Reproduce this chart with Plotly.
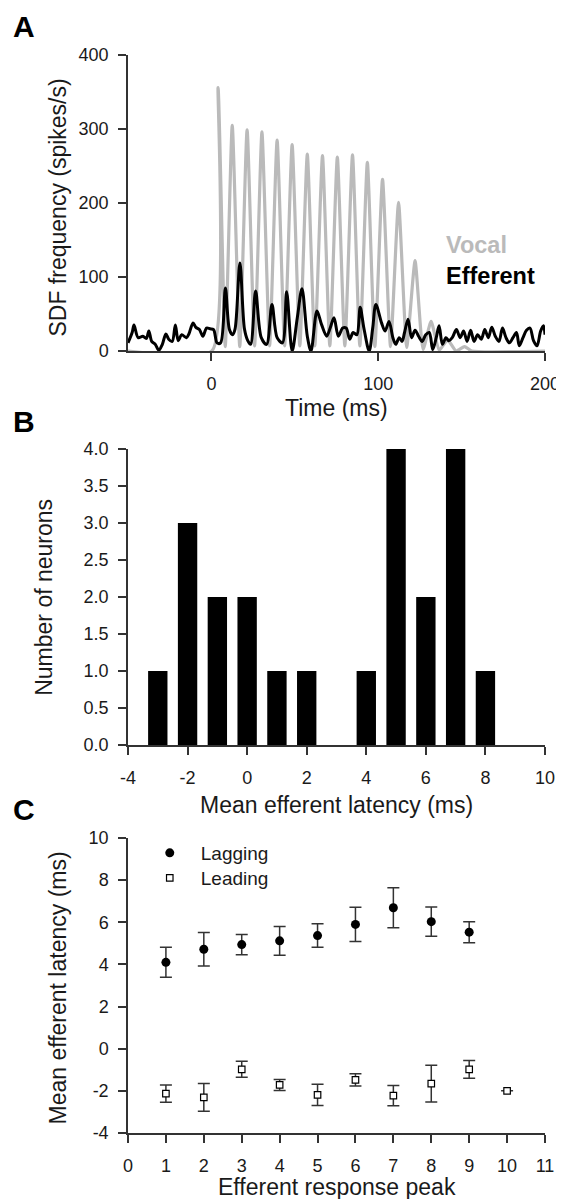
import plotly.graph_objects as go

# ---------------- data ----------------
# Panel A: spike density functions
vocal_t = [-50, 0.3, 4.0, 8.3, 12.5, 17.0, 21.4, 25.9, 30.3, 34.9, 39.4, 43.9, 48.4, 53.0,
           57.5, 62.0, 66.6, 71.0, 75.5, 80.0, 84.6, 89.0, 93.5, 98.0, 102.6, 107.4, 112.2,
           117.1, 122.1, 126.9, 131.7, 136.6, 141.6, 146.7, 151.8, 156.0, 200]
vocal_v = [0, 0, 356, 6, 305, 6, 299, 7, 296, 7, 285, 7, 279, 7,
           266, 7, 264, 7, 262, 7, 265, 7, 255, 6, 232, 6, 201,
           5, 122, 2, 40, 1, 15, 0, 6, 0, 0]

eff_t = [-50, -47.5, -46.4, -43.9, -41.1, -39.0, -37.5, -35.8, -33.7, -31.5, -29.4, -27.3,
         -25.6, -23.5, -21.6, -19.9, -17.8, -15.0, -13.5, -11.0, -9.3, -7.2, -5.1, -2.9,
         -0.8, 1.3, 3.4, 5.5, 8.4, 10.8, 12.7, 14.2, 17.1, 19.8, 21.8, 23.5, 26.5, 29.9,
         33.1, 36.3, 39.4, 42.6, 45.1, 48.4, 51.5, 54.3, 57.5, 59.7, 63.3, 66.0, 69.1,
         71.2, 73.5, 76.1, 78.7, 80.8, 82.9, 85.0, 87.2, 89.2, 91.4, 94.6, 96.7, 98.6,
         102.0, 104.1, 106.5, 108.8, 110.5, 112.6, 114.3, 115.8, 117.9, 120.0, 122.1, 124.2,
         126.4, 128.5, 130.6, 132.7, 134.8, 136.5, 138.5, 140.6, 142.3, 144.4, 146.9, 149.1,
         151.2, 153.3, 155.4, 157.5, 159.6, 161.8, 163.9, 166.0, 168.1, 170.2, 172.4, 174.5,
         176.6, 178.7, 180.8, 182.9, 184.6, 186.8, 188.9, 191.0, 193.1, 195.2, 197.4, 199.1, 200]
eff_v = [11, 25, 35, 18, 20, 17, 27, 13, 9, 1, 9, 23,
         16, 13, 35, 14, 22, 18, 23, 38, 32, 29, 20, 31,
         30, 29, 11, 11, 85, 29, 22, 30, 119, 30, 14, 9, 81, 18,
         9, 63, 18, 11, 80, 0, 45, 84, 20, 0, 54, 36, 20,
         31, 45, 20, 31, 31, 16, 25, 22, 59, 31, 0, 31, 63,
         38, 27, 40, 18, 9, 18, 13, 25, 43, 18, 28, 20,
         13, 22, 25, 2, 18, 34, 9, 18, 14, 18, 29, 18,
         27, 13, 28, 13, 22, 16, 29, 18, 32, 20, 13, 31,
         18, 11, 18, 25, 7, 18, 28, 31, 14, 7, 27, 34, 22]
a_xticks = [0, 100, 200]
a_yticks = [0, 100, 200, 300, 400]

# Panel B: histogram of mean efferent latency
latency_bins = [-3, -2, -1, 0, 1, 2, 4, 5, 6, 7, 8]
neuron_counts = [1, 3, 2, 2, 1, 1, 1, 4, 2, 4, 1]
b_xticks = [-4, -2, 0, 2, 4, 6, 8, 10]
b_xticktext = ["-4", "-2", "0", "2", "4", "6", "8", "10"]
b_yticks = [0, 0.5, 1, 1.5, 2, 2.5, 3, 3.5, 4]

# Panel C: mean efferent latency per response peak
lag_peak = [1, 2, 3, 4, 5, 6, 7, 8, 9]
lag_mean = [4.1, 4.72, 4.94, 5.12, 5.37, 5.9, 6.69, 6.03, 5.53]
lag_err = [0.71, 0.79, 0.48, 0.68, 0.56, 0.81, 0.95, 0.69, 0.5]
lead_peak = [1, 2, 3, 4, 5, 6, 7, 8, 9, 10]
lead_mean = [-2.13, -2.31, -0.98, -1.72, -2.19, -1.48, -2.23, -1.66, -0.98, -2.0]
lead_err = [0.41, 0.66, 0.38, 0.26, 0.5, 0.29, 0.48, 0.87, 0.42, 0]
c_xticks = list(range(0, 12))
c_yticks = [-4, -2, 0, 2, 4, 6, 8, 10]
c_yticktext = ["-4", "-2", "0", "2", "4", "6", "8", "10"]

# ---------------- layout helpers ----------------
FONT = "Liberation Sans, Arial, Helvetica, sans-serif"
W, H = 564, 1199
L, R, T, B = 120, 18, 47, 74
PW = W - L - R
PH = H - T - B


def px(x):
    return (x - L) / PW


def py(y):
    return (H - B - y) / PH


AX = dict(showline=True, linecolor="#333333", linewidth=1.5, ticks="outside", ticklen=8,
          tickwidth=1.5, tickcolor="#333333", showgrid=False, zeroline=False,
          tickfont=dict(family=FONT, size=18, color="#1a1a1a"))

fig = go.Figure()

fig.add_trace(go.Scatter(x=vocal_t, y=vocal_v, mode="lines", showlegend=False,
                         line=dict(color="#bababa", width=3.2, shape="spline", smoothing=0.5),
                         xaxis="x", yaxis="y"))
fig.add_trace(go.Scatter(x=eff_t, y=eff_v, mode="lines", showlegend=False,
                         line=dict(color="#000000", width=3, shape="spline", smoothing=0.9),
                         xaxis="x", yaxis="y"))

fig.add_trace(go.Bar(x=latency_bins, y=neuron_counts, width=0.65, showlegend=False,
                     marker=dict(color="#000000", line=dict(width=0)),
                     xaxis="x2", yaxis="y2"))

fig.add_trace(go.Scatter(x=lag_peak, y=lag_mean, mode="markers", name="Lagging",
                         legend="legend",
                         marker=dict(symbol="circle", size=9, color="#000000"),
                         error_y=dict(type="data", array=lag_err, color="#333333",
                                      thickness=1.5, width=6),
                         xaxis="x3", yaxis="y3"))
fig.add_trace(go.Scatter(x=lead_peak, y=lead_mean, mode="markers", name="Leading",
                         legend="legend2",
                         marker=dict(symbol="square", size=6.5, color="#ffffff",
                                     line=dict(color="#000000", width=1.2)),
                         error_y=dict(type="data", array=lead_err, color="#333333",
                                      thickness=1.5, width=6),
                         xaxis="x3", yaxis="y3"))

annotations = []


def text(x, y, s, size, bold=False, color="#1a1a1a", angle=0, xanchor="center"):
    annotations.append(dict(x=px(x), y=py(y), xref="paper", yref="paper",
                            text=f"<b>{s}</b>" if bold else s, showarrow=False,
                            font=dict(family=FONT, size=size, color=color),
                            textangle=angle, xanchor=xanchor, yanchor="middle"))


text(14, 19, "A", 30, bold=True, color="#000000")
text(14, 413, "B", 30, bold=True, color="#000000")
text(14, 801, "C", 30, bold=True, color="#000000")
text(333, 400, "Time (ms)", 23)
text(333, 797, "Mean efferent latency (ms)", 23)
text(333, 1179, "Efferent response peak", 23)
text(48, 200, "SDF frequency (spikes/s)", 23, angle=-90)
text(34, 589, "Number of neurons", 23, angle=-90)
text(48, 980, "Mean efferent latency (ms)", 23, angle=-90)
text(443, 237, "Vocal", 23.5, bold=True, color="#bababa", xanchor="left")
text(443, 268, "Efferent", 23.5, bold=True, color="#000000", xanchor="left")

LEG = dict(xanchor="left", yanchor="middle",
           font=dict(family=FONT, size=19, color="#1a1a1a"),
           bgcolor="rgba(0,0,0,0)", borderwidth=0, itemwidth=52, itemclick=False)

fig.update_layout(
    width=W, height=H,
    margin=dict(l=L, r=R, t=T, b=B),
    paper_bgcolor="white", plot_bgcolor="white",
    font=dict(family=FONT, color="#1a1a1a"),
    xaxis=dict(AX, domain=[0, 1], range=[-50, 200], tickvals=a_xticks,
               anchor="y", layer="below traces", ticklabelstandoff=8),
    yaxis=dict(AX, domain=[py(343), py(47)], range=[0, 400], tickvals=a_yticks,
               anchor="x", ticklabelstandoff=6),
    xaxis2=dict(AX, domain=[0, 1], range=[-4, 10], tickvals=b_xticks, ticktext=b_xticktext,
                anchor="y2", ticklabelstandoff=8),
    yaxis2=dict(AX, domain=[py(737), py(441)], range=[0, 4],
                tickvals=b_yticks, tickformat=".1f",
                anchor="x2", ticklabelstandoff=6),
    xaxis3=dict(AX, domain=[0, 1], range=[0, 11], tickvals=c_xticks,
                anchor="y3", ticklabelstandoff=8),
    yaxis3=dict(AX, domain=[0, py(830)], range=[-4, 10], tickvals=c_yticks,
                ticktext=c_yticktext, anchor="x3", ticklabelstandoff=6),
    showlegend=True,
    legend=dict(LEG, x=px(131), y=py(845)),
    legend2=dict(LEG, x=px(131), y=py(870)),
    annotations=annotations,
)

fig.write_html("out.html")
